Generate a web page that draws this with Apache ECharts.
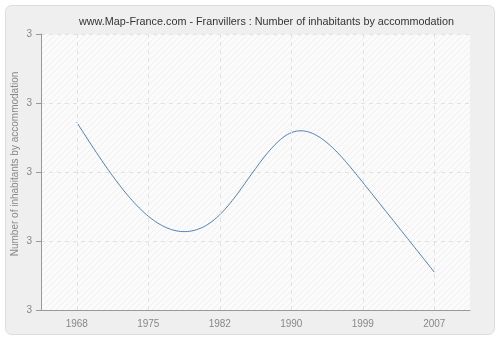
<!DOCTYPE html>
<html><head><meta charset="utf-8">
<script src="https://cdn.jsdelivr.net/npm/echarts@6/dist/echarts.min.js"></script>
<style>html,body{margin:0;padding:0;background:#fff}#c{width:500px;height:340px}</style>
</head><body><div id="c"></div>
<script>
const years = ['1968','1975','1982','1990','1999','2007'];
const values = [3.072, 2.936, 2.938, 3.057, 2.985, 2.855];
const titleText = 'www.Map-France.com - Franvillers : Number of inhabitants by accommodation';
const yName = 'Number of inhabitants by accommodation';
const FONT = 'Liberation Sans';

const pc = document.createElement('canvas');
pc.width = 6; pc.height = 6;
const g = pc.getContext('2d');
g.fillStyle = '#fbfbfb'; g.fillRect(0,0,6,6);
g.strokeStyle = '#efefef'; g.lineWidth = 1;
g.beginPath();
for (let k=-6;k<=12;k+=6){ g.moveTo(k,6); g.lineTo(k+6,0); }
g.stroke();

// natural cubic spline through the data points' pixel positions (rendering only)
function splinePath(pts){
  const n = pts.length;
  const xs = pts.map(p=>p[0]), ys = pts.map(p=>p[1]);
  const h = []; for (let i=0;i<n-1;i++) h.push(xs[i+1]-xs[i]);
  const A=[],B=[],C=[],D=[];
  for (let i=0;i<n;i++){A.push(0);B.push(1);C.push(0);D.push(0);}
  for (let i=1;i<n-1;i++){A[i]=h[i-1];B[i]=2*(h[i-1]+h[i]);C[i]=h[i];D[i]=6*((ys[i+1]-ys[i])/h[i]-(ys[i]-ys[i-1])/h[i-1]);}
  for (let i=1;i<n;i++){const m=A[i]/B[i-1];B[i]-=m*C[i-1];D[i]-=m*D[i-1];}
  const MM=new Array(n).fill(0);
  MM[n-1]=D[n-1]/B[n-1];
  for (let i=n-2;i>=0;i--) MM[i]=(D[i]-C[i]*MM[i+1])/B[i];
  const out=[];
  for (let i=0;i<n-1;i++){
    const steps=40;
    for (let s=0;s<=steps;s++){
      if (i>0 && s===0) continue;
      const t=s/steps, x=xs[i]+t*h[i];
      const A1=(xs[i+1]-x)/h[i], B1=(x-xs[i])/h[i];
      const y=A1*ys[i]+B1*ys[i+1]+((A1*A1*A1-A1)*MM[i]+(B1*B1*B1-B1)*MM[i+1])*h[i]*h[i]/6;
      out.push([x,y]);
    }
  }
  return out;
}

const chart = echarts.init(document.getElementById('c'), null, {renderer:'canvas'});
chart.setOption({
  animation:false,
  backgroundColor:'#fff',
  graphic:[{type:'rect', z:-10, shape:{x:5.5,y:5.5,width:489,height:329,r:6},
    style:{fill:'#efefef', stroke:'#dddddd', lineWidth:1}}],
  title:{text:titleText, left:74, top:12, textStyle:{fontFamily:FONT, fontSize:10.8, fontWeight:'normal', color:'#333'}},
  grid:{left:41, right:30, top:34, bottom:30, show:true, outerBoundsMode:'none', containLabel:false,
    backgroundColor:{image:pc, repeat:'repeat'}, borderWidth:0},
  xAxis:{type:'category', data:years, boundaryGap:true,
    axisLine:{lineStyle:{color:'#999'}},
    axisTick:{alignWithLabel:true, length:5, lineStyle:{color:'#999'}},
    axisLabel:{color:'#888', fontFamily:FONT, fontSize:10, margin:9},
    splitLine:{show:false}},
  yAxis:{type:'value', min:2.8, max:3.2, interval:0.1,
    name:yName, nameLocation:'middle', nameGap:21, nameMoveOverlap:false,
    nameTextStyle:{color:'#888', fontFamily:FONT, fontSize:10, padding:[0,0,0,16]},
    axisLine:{show:true, lineStyle:{color:'#999'}},
    axisTick:{show:true, length:5, lineStyle:{color:'#999'}},
    axisLabel:{color:'#888', fontFamily:FONT, fontSize:10, margin:9, formatter:v=>Math.round(v).toString()},
    splitLine:{show:true, lineStyle:{color:'#e2e2e2', type:[4,4]}}},
  series:[{type:'custom', data:values.map((v,i)=>[i,v]),
    encode:{x:0,y:1},
    clip:true,
    renderItem:function(params, api){
      if (params.dataIndex!==0) return null;
      const pts = values.map((v,i)=>api.coord([i,v]));
      return {type:'polyline', shape:{points:splinePath(pts)}, style:{stroke:'#4f7fb5', lineWidth:1, fill:null}, z2:10};
    },
    markLine:{silent:true, symbol:'none', label:{show:false},
      lineStyle:{color:'#e2e2e2', type:[4,4], width:1},
      data:years.map(y=>({xAxis:y}))},
    z:3
  }]
});
</script></body></html>
